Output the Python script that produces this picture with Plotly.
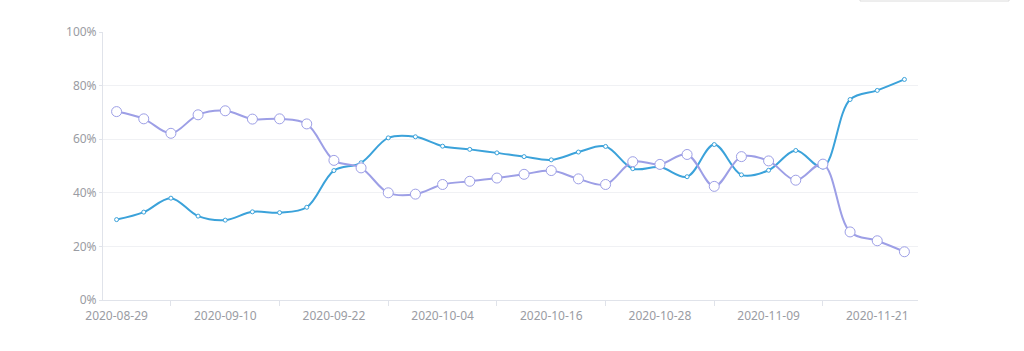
import plotly.graph_objects as go

dates = [
    "2020-08-29", "2020-09-01", "2020-09-04", "2020-09-07", "2020-09-10",
    "2020-09-13", "2020-09-16", "2020-09-19", "2020-09-22", "2020-09-25",
    "2020-09-28", "2020-10-01", "2020-10-04", "2020-10-07", "2020-10-10",
    "2020-10-13", "2020-10-16", "2020-10-19", "2020-10-22", "2020-10-25",
    "2020-10-28", "2020-10-31", "2020-11-03", "2020-11-06", "2020-11-09",
    "2020-11-12", "2020-11-15", "2020-11-18", "2020-11-21", "2020-11-24",
]

purple_vals = [70.3, 67.6, 62.2, 69.1, 70.6, 67.5, 67.6, 65.7, 52.1, 49.3,
               40.0, 39.5, 43.1, 44.3, 45.5, 46.9, 48.3, 45.2, 43.1, 51.6,
               50.6, 54.3, 42.4, 53.5, 51.9, 44.7, 50.7, 25.4, 22.1, 18.0]

blue_vals = [30.0, 32.8, 38.0, 31.3, 29.8, 32.9, 32.6, 34.6, 48.3, 51.2,
             60.5, 60.9, 57.4, 56.2, 54.9, 53.5, 52.3, 55.2, 57.3, 49.0,
             49.6, 46.0, 58.0, 46.7, 48.4, 55.8, 49.6, 74.8, 78.2, 82.3]

y_ticks = [0, 20, 40, 60, 80, 100]
y_tick_text = ["0%", "20%", "40%", "60%", "80%", "100%"]

BLUE = "#3ba2da"
PURPLE = "#9d9fe6"
LABEL = "#9a9ca3"

idx = list(range(len(dates)))
label_idx = idx[::4]
label_text = [dates[i] for i in label_idx]
minor_idx = idx[2::4]

fig = go.Figure()
fig.add_trace(go.Scatter(
    x=idx, y=blue_vals, mode="lines+markers",
    line=dict(color=BLUE, width=2, shape="spline", smoothing=1.0),
    marker=dict(size=4, color="white", line=dict(color=BLUE, width=1)),
    text=dates, showlegend=False,
))
fig.add_trace(go.Scatter(
    x=idx, y=purple_vals, mode="lines+markers",
    line=dict(color=PURPLE, width=2, shape="spline", smoothing=1.0),
    marker=dict(size=10, color="white", line=dict(color=PURPLE, width=1)),
    text=dates, showlegend=False,
))

fig.update_layout(
    width=1024, height=351,
    margin=dict(l=103, r=106, t=32, b=51),
    paper_bgcolor="white", plot_bgcolor="white",
    font=dict(family="Noto Sans, Lato, sans-serif", size=12, color=LABEL),
    xaxis=dict(
        range=[-0.5, len(dates) - 0.5],
        tickmode="array", tickvals=label_idx, ticktext=label_text,
        ticks="", showgrid=False, zeroline=False,
        showline=True, linecolor="#e0e3ea", linewidth=1,
        ticklabelstandoff=5,
        tickfont=dict(size=12, color=LABEL),
        minor=dict(tickmode="array", tickvals=minor_idx, ticks="outside",
                   ticklen=5, tickcolor="#e0e3ea", tickwidth=1, showgrid=False),
    ),
    yaxis=dict(
        range=[0, 100], tickmode="array", tickvals=y_ticks, ticktext=y_tick_text,
        showgrid=True, gridcolor="#f0f1f4", gridwidth=1, zeroline=False,
        showline=True, linecolor="#e0e3ea", linewidth=1,
        ticks="outside", ticklen=3, tickcolor="#e0e3ea",
        tickfont=dict(size=12, color=LABEL),
    ),
    shapes=[dict(
        type="rect", xref="paper", yref="paper",
        x0=(860 - 103) / 815, x1=(1009 - 103) / 815,
        y0=(300 - 1) / 268, y1=(300 + 12) / 268,
        line=dict(color="#dcdcdc", width=1), fillcolor="white",
    )],
)

fig.write_html("out.html")
